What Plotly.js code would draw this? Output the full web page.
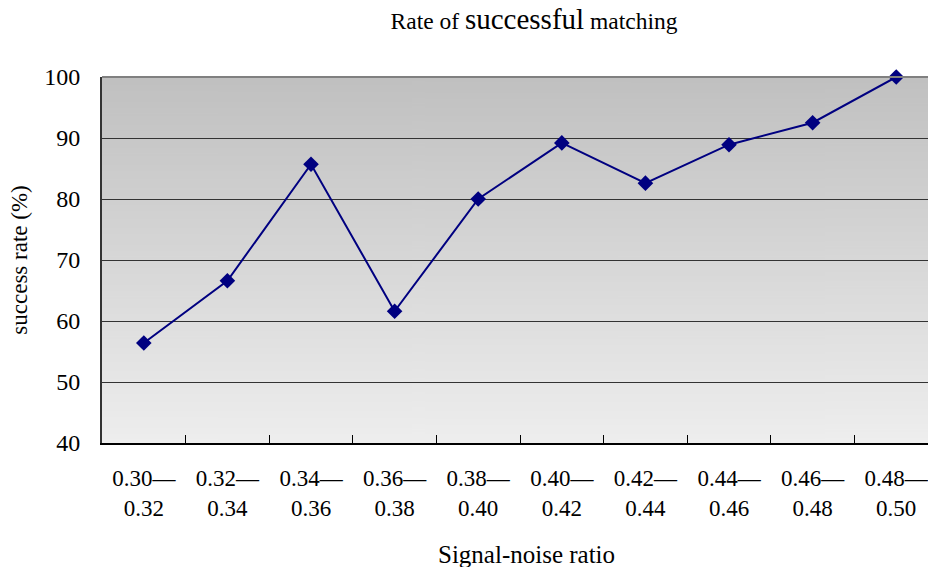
<!DOCTYPE html>
<html>
<head>
<meta charset="utf-8">
<script src="https://cdn.plot.ly/plotly-3.0.1.min.js"></script>
<style>html,body{margin:0;padding:0;background:#fff;}#chart{width:928px;height:567px;}</style>
</head>
<body>
<div id="chart"></div>
<script>
var rangeStarts = ["0.30","0.32","0.34","0.36","0.38","0.40","0.42","0.44","0.46","0.48"];
var rangeEnds = ["0.32","0.34","0.36","0.38","0.40","0.42","0.44","0.46","0.48","0.50"];
var successRate = [56.4, 66.6, 85.7, 61.6, 80.0, 89.2, 82.6, 88.9, 92.5, 100];
var yTicks = [40, 50, 60, 70, 80, 90, 100];

var categories = rangeStarts.map(function (s, i) {
  return s + "—<br>" + rangeEnds[i];
});

function gradientURL() {
  var c = document.createElement('canvas');
  c.width = 4; c.height = 256;
  var ctx = c.getContext('2d');
  var g = ctx.createLinearGradient(0, 0, 0, 256);
  g.addColorStop(0, '#c0c0c0');
  g.addColorStop(1, '#eeeeee');
  ctx.fillStyle = g;
  ctx.fillRect(0, 0, 4, 256);
  return c.toDataURL();
}

var font = '"Liberation Serif", "Times New Roman", serif';

var trace = {
  x: categories,
  y: successRate,
  type: 'scatter',
  mode: 'lines+markers',
  cliponaxis: false,
  line: {color: '#000080', width: 2},
  marker: {symbol: 'diamond', size: 12, color: '#000080'},
  hoverinfo: 'x+y'
};

var layout = {
  width: 928, height: 567,
  margin: {l: 102, r: 0, t: 77, b: 124},
  paper_bgcolor: '#ffffff',
  plot_bgcolor: 'rgba(0,0,0,0)',
  font: {family: font, color: '#000', size: 22},
  showlegend: false,
  title: {
    text: "Rate of <span style='font-size:29px'>successful</span> matching",
    font: {family: font, size: 23.5, color: '#000'},
    x: 534/928, xref: 'container', xanchor: 'center',
    y: 1 - 21/567, yref: 'container', yanchor: 'middle'
  },
  xaxis: {
    type: 'category',
    range: [-0.5, 9.38],
    tickson: 'boundaries',
    ticks: 'inside', ticklen: 8, tickcolor: '#000', tickwidth: 1,
    showgrid: false,
    showline: true, linecolor: '#000', linewidth: 2,
    tickfont: {family: font, size: 23, color: '#000'},
    ticklabelstandoff: 13,
    fixedrange: true
  },
  yaxis: {
    range: [40, 100],
    tickvals: yTicks,
    ticktext: yTicks.map(String),
    ticks: 'inside', ticklen: 8, tickcolor: '#333', tickwidth: 1,
    showgrid: true, gridcolor: '#333333', gridwidth: 1,
    zeroline: false,
    showline: true, linecolor: '#333', linewidth: 2,
    tickfont: {family: font, size: 24, color: '#000'},
    ticklabelstandoff: 15,
    title: {text: 'success rate (%)', font: {family: font, size: 23, color: '#000'}, standoff: 10},
    fixedrange: true
  },
  annotations: [{
    text: 'Signal-noise ratio',
    xref: 'paper', yref: 'paper',
    x: (526 - 102) / 826, y: (443 - 554) / 366,
    xanchor: 'center', yanchor: 'middle',
    showarrow: false,
    font: {family: font, size: 25, color: '#000'}
  }],
  images: [{
    source: gradientURL(),
    xref: 'paper', yref: 'paper',
    x: 0, y: 1, sizex: 1, sizey: 1,
    sizing: 'stretch', layer: 'below',
    xanchor: 'left', yanchor: 'top'
  }],
  shapes: [{
    type: 'line', xref: 'paper', yref: 'paper',
    x0: 0, x1: 1, y0: 1, y1: 1,
    line: {color: '#808080', width: 2}
  }]
};

Plotly.newPlot('chart', [trace], layout, {displayModeBar: false, staticPlot: true});
</script>
</body>
</html>
